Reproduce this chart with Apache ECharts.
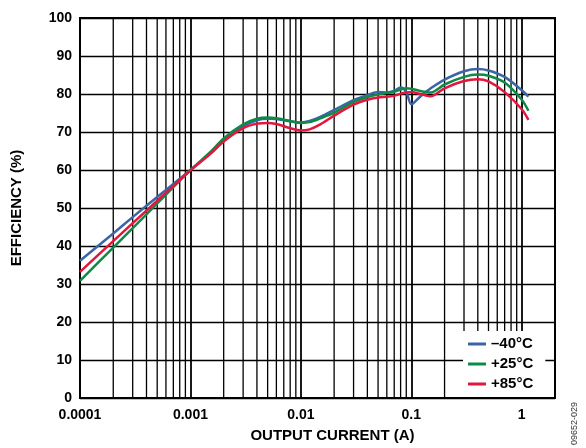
<!DOCTYPE html>
<html>
<head>
<meta charset="utf-8">
<script src="https://cdn.jsdelivr.net/npm/echarts@6/dist/echarts.min.js"></script>
<style>
  html, body { margin: 0; padding: 0; background: #fff; }
  #chart { width: 586px; height: 448px; }
</style>
</head>
<body>
<div id="chart"></div>
<script>
// output current (A)
const current = [0.0001, 0.0002, 0.0003, 0.0005, 0.0007, 0.001, 0.0015, 0.002, 0.003, 0.004,
  0.005, 0.006, 0.008, 0.01, 0.012, 0.015, 0.02, 0.03, 0.04, 0.05,
  0.06, 0.07, 0.08, 0.09, 0.1, 0.12, 0.15, 0.2, 0.3, 0.4,
  0.5, 0.7, 1, 1.15]

// efficiency (%) per temperature
const effMinus40 = [36.1, 43.3, 47.6, 52.9, 56.3, 60.0, 64.3, 67.9, 71.5, 73.1,
  73.5, 73.4, 72.8, 72.5, 72.9, 74.0, 75.8, 78.4, 79.7, 80.5,
  80.4, 80.8, 81.7, 80.6, 77.3, 79.3, 81.5, 83.8, 86.0, 86.6,
  86.2, 84.5, 81.0, 79.3]
const effPlus25 = [30.8, 39.6, 44.7, 51.2, 55.5, 60.0, 64.6, 68.3, 72.0, 73.5,
  73.8, 73.6, 72.9, 72.4, 72.6, 73.6, 75.1, 77.9, 79.2, 79.9,
  80.3, 80.6, 81.2, 81.5, 81.4, 80.8, 80.4, 82.5, 84.5, 85.1,
  84.8, 83.0, 78.5, 75.6]
const effPlus85 = [33.2, 41.3, 46.0, 51.9, 55.8, 59.9, 64.1, 67.5, 71.0, 72.2,
  72.4, 72.1, 71.0, 70.4, 70.7, 72.0, 74.3, 77.2, 78.5, 79.1,
  79.3, 79.5, 80.1, 80.4, 80.5, 80.0, 79.4, 81.5, 83.4, 83.9,
  83.3, 80.5, 76.0, 73.2]

const seriesNames = ['\u201340°C', '+25°C', '+85°C']
const seriesColors = ['#3b65a5', '#0e8a47', '#e3163e']
const xTickLabels = ['0.0001', '0.001', '0.01', '0.1', '1']

// minor vertical grid lines: 2..9 in each decade
let minorLines = []
for (let d = -4; d <= -1; d++) {
  for (let k = 2; k <= 9; k++) {
    minorLines.push(k * Math.pow(10, d))
  }
}

function pairs(ys) {
  return current.map((x, i) => [x, ys[i]])
}

const font = '"Liberation Sans", Arial, sans-serif'
let chart = echarts.init(document.getElementById('chart'))

let series = [effMinus40, effPlus25, effPlus85].map((ys, i) => ({
  name: seriesNames[i],
  type: 'line',
  data: pairs(ys),
  smooth: 0.3,
  showSymbol: false,
  z: 5,
  lineStyle: { color: seriesColors[i], width: 2.5 },
  itemStyle: { color: seriesColors[i] }
}))
series.unshift({
  name: 'grid',
  type: 'custom',
  silent: true,
  z: 1,
  data: minorLines.map(x => [x]),
  renderItem: function(params, api) {
    let top = api.coord([api.value(0), 100])
    let bottom = api.coord([api.value(0), 0])
    return {
      type: 'line',
      shape: { x1: top[0], y1: top[1], x2: bottom[0], y2: bottom[1] },
      style: { stroke: '#000', lineWidth: 1.3 }
    }
  }
})

chart.setOption({
  animation: false,
  textStyle: { fontFamily: font },
  grid: {
    left: 80, right: 31, top: 18, bottom: 50,
    show: true, borderColor: '#000', borderWidth: 2, backgroundColor: '#fff'
  },
  legend: {
    data: seriesNames,
    orient: 'vertical',
    left: 463, top: 331,
    z: 20,
    backgroundColor: '#fff',
    padding: [5, 12, 5, 5],
    itemGap: 4,
    itemWidth: 18, itemHeight: 3,
    icon: 'rect',
    textStyle: { fontFamily: font, fontWeight: 'bold', fontSize: 15, color: '#000', lineHeight: 16 }
  },
  xAxis: {
    type: 'log',
    logBase: 10,
    min: 0.0001, max: 2,
    name: 'OUTPUT CURRENT (A)',
    nameLocation: 'middle',
    nameGap: 30,
    nameTextStyle: { fontFamily: font, fontWeight: 'bold', fontSize: 15, color: '#000', padding: [0, 0, 0, 30] },
    axisLine: { show: false },
    axisTick: { show: false },
    axisLabel: {
      margin: 10,
      fontFamily: font, fontWeight: 'bold', fontSize: 14, color: '#000',
      formatter: function(v) {
        let e = Math.log10(v)
        let r = Math.round(e)
        if (Math.abs(e - r) > 0.01) return ''
        return xTickLabels[r + 4] || ''
      }
    },
    splitLine: { show: true, lineStyle: { color: '#000', width: 1.8 } }
  },
  yAxis: {
    type: 'value',
    min: 0, max: 100, interval: 10,
    name: 'EFFICIENCY (%)',
    nameLocation: 'middle',
    nameGap: 56,
    nameTextStyle: { fontFamily: font, fontWeight: 'bold', fontSize: 15, color: '#000' },
    axisLine: { show: false },
    axisTick: { show: false },
    axisLabel: { margin: 8, fontFamily: font, fontWeight: 'bold', fontSize: 14, color: '#000' },
    splitLine: { show: true, lineStyle: { color: '#000', width: 1.3 } }
  },
  graphic: [{
    type: 'text',
    x: 570, y: 445,
    rotation: Math.PI / 2,
    style: { text: '09652-029', fontFamily: font, fontSize: 9, fill: '#333' }
  }],
  series: series
})
</script>
</body>
</html>
